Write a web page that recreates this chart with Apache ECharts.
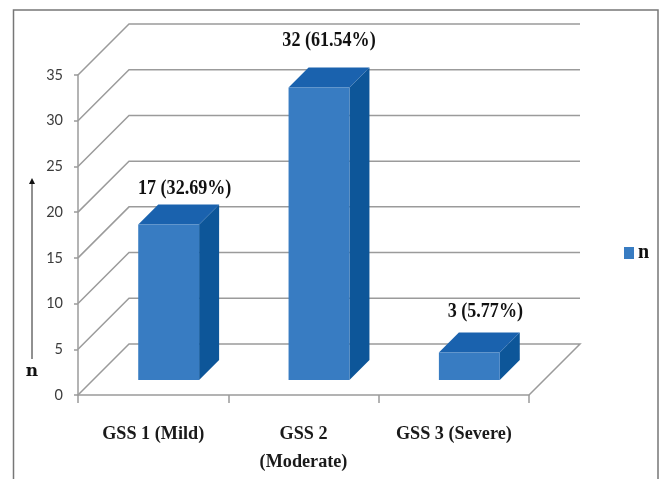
<!DOCTYPE html>
<html>
<head>
<meta charset="utf-8">
<style>html,body{margin:0;padding:0;background:#fff}#chart{width:659px;height:479px}</style>
<script src="https://cdn.jsdelivr.net/npm/echarts@6/dist/echarts.min.js"></script>
</head>
<body>
<div id="chart"></div>
<script>
// Grade distribution shown as a pseudo-3D column chart
const categories = ['GSS 1 (Mild)', 'GSS 2\n(Moderate)', 'GSS 3 (Severe)'];
const counts = [17, 32, 3];
const percents = ['32.69', '61.54', '5.77'];
const yTicks = [0, 5, 10, 15, 20, 25, 30, 35];

const seriesName = 'n';
const FLOOR_DEPTH = 51;   // depth of the floor and back wall, px
const BAR_INSET = 15;     // distance from the front edge to the column face, px
const BAR_DEPTH = 20;     // depth of a column, px
const BAR_SHARE = 0.405;  // column width as a share of a category band
const labelDx = [6, 0, 6];
const labelLift = [16, 27, 21];

const GRID = '#9b9b9b';
const SERIF = '"Liberation Serif", serif';

const chart = echarts.init(document.getElementById('chart'), null, { renderer: 'canvas' });

function renderWall(params, api) {
  const box = params.coordSys;
  const v = api.value(1);
  const y = api.coord([0, v])[1];
  const x0 = box.x, x1 = box.x + box.width;
  const pts = [[x0, y], [x0 + FLOOR_DEPTH, y - FLOOR_DEPTH], [x1 + FLOOR_DEPTH, y - FLOOR_DEPTH]];
  if (v === 0) pts.push([x1, y]);
  return { type: 'polyline', shape: { points: pts }, style: { stroke: GRID, lineWidth: 1.5, fill: null }, silent: true };
}

function renderColumn(params, api) {
  const i = api.value(0);
  const v = api.value(1);
  const top = api.coord([i, v]);
  const base = api.coord([i, 0]);
  const w = api.size([1, 0])[0] * BAR_SHARE;
  const l = top[0] + BAR_INSET + 0.5 - w / 2, r = l + w;
  const t = top[1] - BAR_INSET, b = base[1] - BAR_INSET;
  const d = BAR_DEPTH;
  return {
    type: 'group',
    children: [
      { type: 'polygon', shape: { points: [[r, t], [r + d, t - d], [r + d, b - d], [r, b]] },
        style: { fill: '#0d5699' } },
      { type: 'polygon', shape: { points: [[l, t], [l + d, t - d], [r + d, t - d], [r, t]] },
        style: { fill: '#1a62ae' } },
      { type: 'rect', shape: { x: l, y: t, width: w, height: b - t },
        style: { fill: '#387cc2' } },
      { type: 'text',
        x: (l + r) / 2 + d / 2 + labelDx[i], y: t - d - labelLift[i], scaleX: 0.86,
        style: { x: 0, y: 0,
          text: counts[i] + ' (' + percents[i] + '%)',
          fill: '#111', font: 'bold 21px ' + SERIF, align: 'center', verticalAlign: 'middle' } }
    ]
  };
}

chart.setOption({
  animation: false,
  backgroundColor: '#fff',
  grid: { left: 78, right: 130, top: 75, bottom: 84, containLabel: false },
  legend: {
    left: 619, top: 238, icon: 'rect', itemWidth: 10, itemHeight: 12, itemGap: 0,
    data: [seriesName],
    textStyle: { fontFamily: SERIF, fontWeight: 'bold', fontSize: 20, color: '#111', padding: [2, 0, 0, -1] }
  },
  xAxis: {
    type: 'category', data: categories,
    axisLine: { lineStyle: { color: GRID, width: 1.5 } },
    axisTick: { show: true, length: 8, lineStyle: { color: GRID, width: 1.5 } },
    axisLabel: { margin: 25, interval: 0, fontFamily: SERIF, fontWeight: 'bold', fontSize: 18.2, color: '#1a1a1a', lineHeight: 28 }
  },
  yAxis: {
    type: 'value', min: 0, max: 35, interval: 5,
    axisLine: { show: true, lineStyle: { color: GRID, width: 1.5 } },
    axisTick: { show: true, length: 4, lineStyle: { color: GRID, width: 1.5 } },
    splitLine: { show: false },
    axisLabel: { margin: 15, fontFamily: 'Lato', fontSize: 14.5, color: '#3c3c3c' }
  },
  series: [
    { type: 'custom', name: 'wall', renderItem: renderWall, clip: false, z: 1, silent: true,
      encode: { x: 0, y: 1 }, data: yTicks.map(v => [0, v]) },
    { type: 'custom', name: seriesName, renderItem: renderColumn, clip: false, z: 2,
      itemStyle: { color: '#387cc2' },
      encode: { x: 0, y: 1 }, data: counts.map((v, i) => [i, v]) }
  ],
  graphic: [
    { type: 'polyline', silent: true, shape: { points: [[13.5, 479], [13.5, 10], [658, 10], [658, 479]] },
      style: { stroke: '#777', lineWidth: 1.5, fill: null } },
    { type: 'line', silent: true, shape: { x1: 32, y1: 359, x2: 32, y2: 182 },
      style: { stroke: '#222', lineWidth: 1 } },
    { type: 'polygon', silent: true, shape: { points: [[32, 178], [35, 184], [29, 184]] },
      style: { fill: '#111' } },
    { type: 'text', silent: true, x: 32, y: 372,
      style: { text: 'n', fill: '#111', font: 'bold 17px "DejaVu Serif", serif', align: 'center', verticalAlign: 'middle' } }
  ]
});
</script>
</body>
</html>
